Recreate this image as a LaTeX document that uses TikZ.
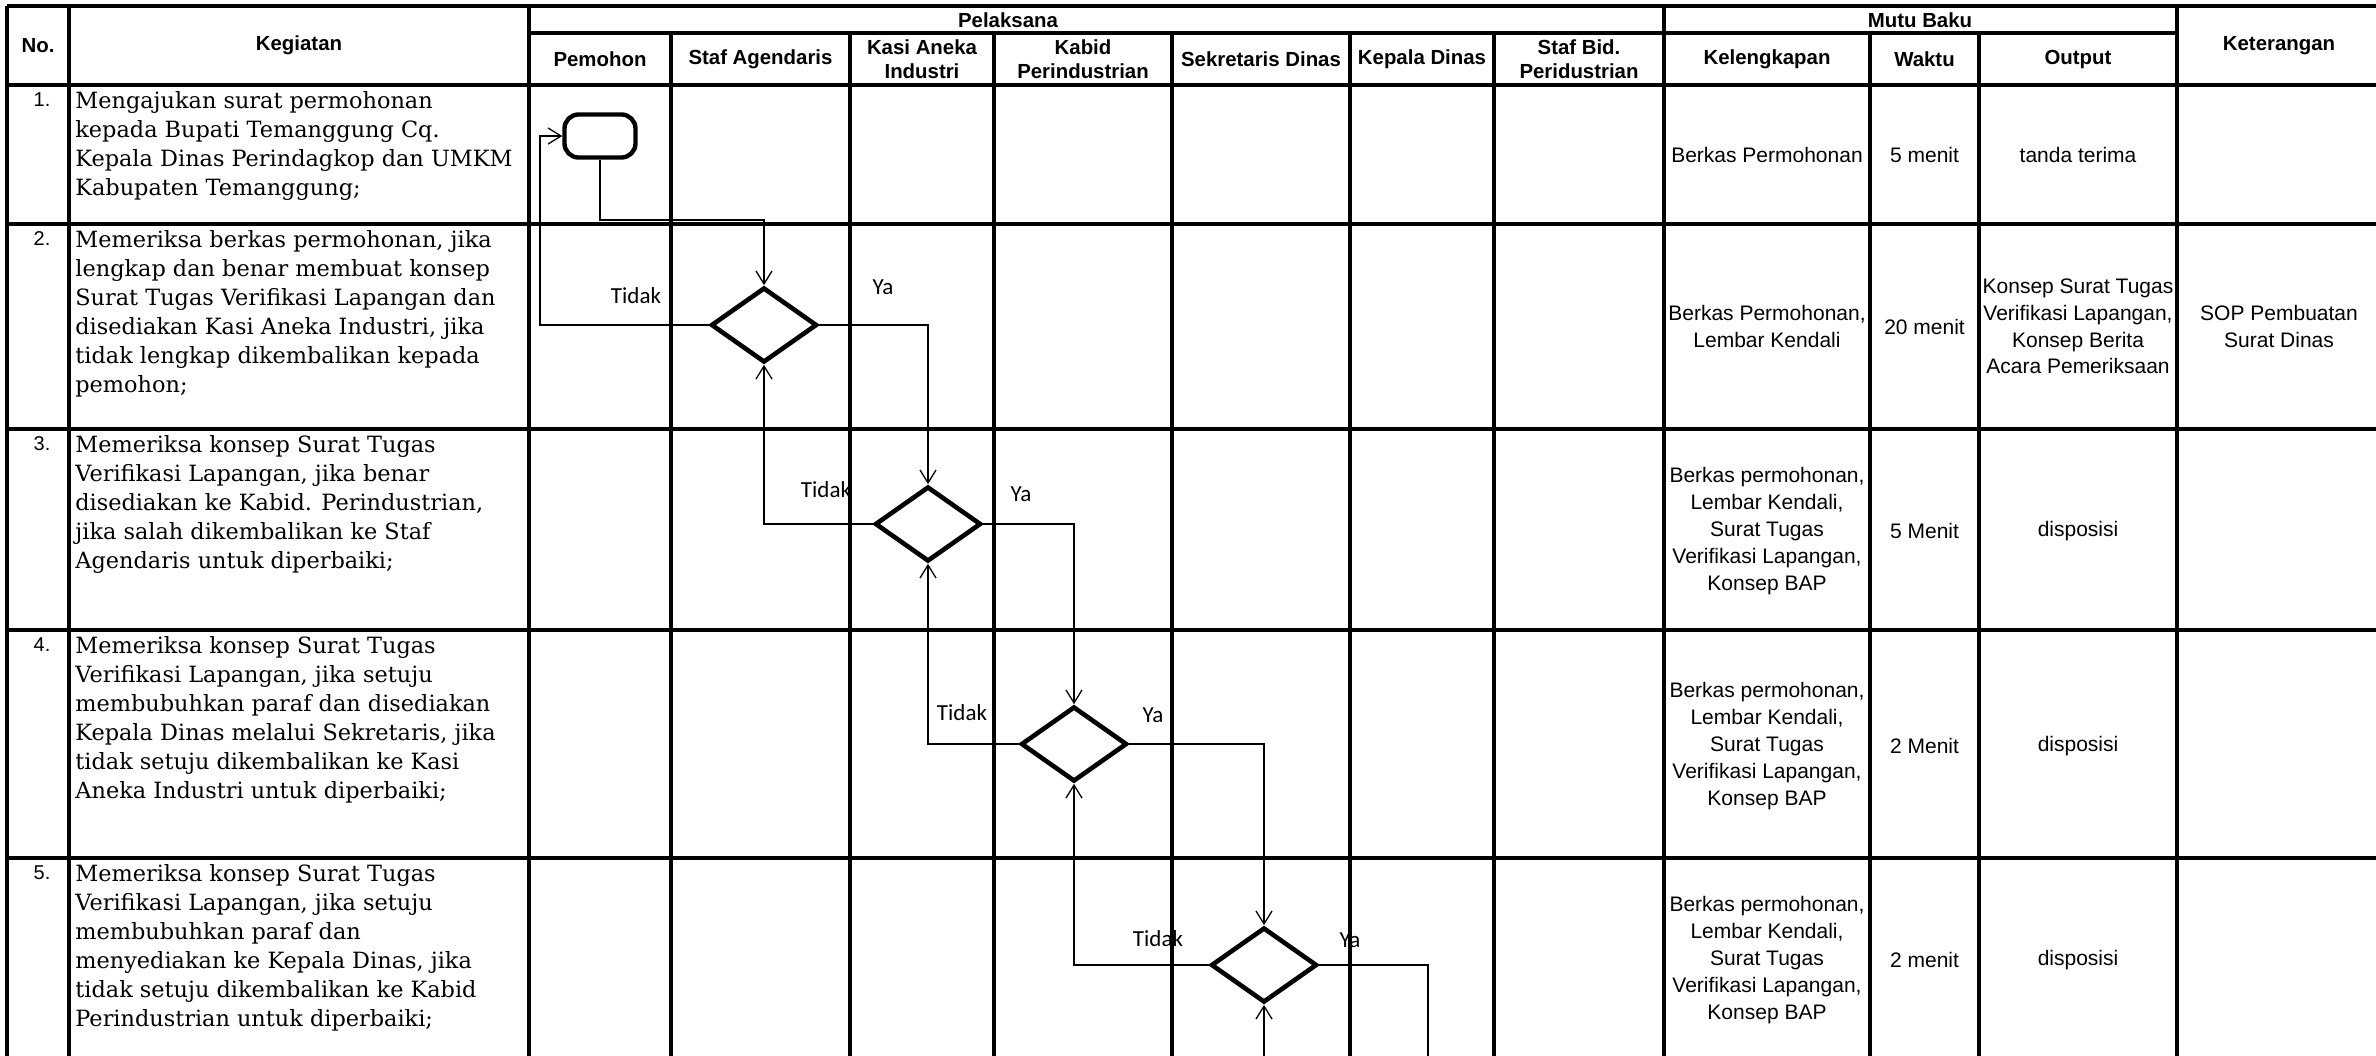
\documentclass[tikz,border=0pt]{standalone}
\usepackage{fontspec}
\usepackage{xcolor}
\usetikzlibrary{arrows.meta,shapes.geometric}
\setmainfont{Liberation Sans}
\newfontfamily\uraianFont{DejaVu Serif}
\newfontfamily\labelFont{Carlito}
\definecolor{gridBlack}{RGB}{0,0,0}
\newcommand{\headTxt}{\fontsize{10.2}{12}\selectfont\bfseries}
\newcommand{\tabTxt}{\fontsize{10.5}{13.4}\selectfont}
\newcommand{\uraianTxt}{\uraianFont\fontsize{11.2}{14.5}\selectfont}
\newcommand{\ynTxt}{\labelFont\fontsize{11.5}{13}\selectfont}
\newcommand{\berkasLengkap}{Berkas permohonan,\\Lembar Kendali,\\Surat Tugas\\Verifikasi Lapangan,\\Konsep BAP}

\begin{document}
\begin{tikzpicture}[x=0.5pt,y=-0.5pt,
  gridLine/.style={draw=gridBlack,line width=1.8pt},
  flowLine/.style={draw=gridBlack,line width=0.65pt,-{Straight Barb[length=6.5pt,width=8pt]}},
  flowPlain/.style={draw=gridBlack,line width=0.65pt},
  headCell/.style={align=center,inner sep=0pt,font=\headTxt},
  bodyCell/.style={align=center,inner sep=0pt,font=\tabTxt},
  uraian/.style={anchor=north west,align=left,inner sep=0pt,font=\uraianTxt},
  nomor/.style={anchor=north,inner sep=0pt,font=\fontsize{10}{12}\selectfont},
  terminal/.style={draw=gridBlack,rounded corners=7pt,line width=2.2pt,minimum width=35.5pt,minimum height=21.5pt,inner sep=0pt},
  decision/.style={draw=gridBlack,diamond,line width=2.3pt,minimum width=53pt,minimum height=37.5pt,inner sep=0pt},
  ynLabel/.style={inner sep=0pt,font=\ynTxt}]
\useasboundingbox (0,0) rectangle (2376,1055);
\clip (0,0) rectangle (2376,1055);
\fill[white] (0,0) rectangle (2376,1055);

% tabel
\draw[gridLine] (7,6) -- (2381,6);
\draw[gridLine] (529,33) -- (2177,33);
\foreach \y in {85,224,429,630,858}
  \draw[gridLine] (7,\y) -- (2381,\y);
\foreach \x in {7,69,529,1664,2177}
  \draw[gridLine] (\x,6) -- (\x,1070);
\foreach \x in {671,850,994,1172,1350,1494,1870,1979}
  \draw[gridLine] (\x,33) -- (\x,1070);

% kepala tabel
\node[headCell] (hNo) at (38,45.5) {No.};
\node[headCell] (hKeg) at (299,45.5) {Kegiatan};
\node[headCell] (hPel) at (1008,20) {Pelaksana};
\node[headCell] (hMutu) at (1920,20) {Mutu Baku};
\node[headCell] (hKet) at (2279,45.5) {Keterangan};
\node[headCell] (hPem) at (600,59) {Pemohon};
\node[headCell] (hStaf) at (760.5,59) {Staf Agendaris};
\node[headCell] (hKasi) at (922,59) {Kasi Aneka\\Industri};
\node[headCell] (hKabid) at (1083,59) {Kabid\\Perindustrian};
\node[headCell] (hSekr) at (1261,59) {Sekretaris Dinas};
\node[headCell] (hKadin) at (1422,59) {Kepala Dinas};
\node[headCell] (hStafBid) at (1579,59) {Staf Bid.\\Peridustrian};
\node[headCell] (hLengkap) at (1767,59) {Kelengkapan};
\node[headCell] (hWaktu) at (1924.5,59) {Waktu};
\node[headCell] (hOutput) at (2078,59) {Output};

% kegiatan
\node[nomor] (noA) at (42,92) {1.};
\node[nomor] (noB) at (42,231) {2.};
\node[nomor] (noC) at (42,436) {3.};
\node[nomor] (noD) at (42,637) {4.};
\node[nomor] (noE) at (42,865) {5.};
\node[uraian] (kegA) at (75,91) {Mengajukan surat permohonan\\kepada Bupati Temanggung Cq.\\Kepala Dinas Perindagkop dan UMKM\\Kabupaten Temanggung;};
\node[uraian] (kegB) at (75,230) {Memeriksa berkas permohonan, jika\\lengkap dan benar membuat konsep\\Surat Tugas Verifikasi Lapangan dan\\disediakan Kasi Aneka Industri, jika\\tidak lengkap dikembalikan kepada\\pemohon;};
\node[uraian] (kegC) at (75,435) {Memeriksa konsep Surat Tugas\\Verifikasi Lapangan, jika benar\\disediakan ke Kabid. Perindustrian,\\jika salah dikembalikan ke Staf\\Agendaris untuk diperbaiki;};
\node[uraian] (kegD) at (75,636) {Memeriksa konsep Surat Tugas\\Verifikasi Lapangan, jika setuju\\membubuhkan paraf dan disediakan\\Kepala Dinas melalui Sekretaris, jika\\tidak setuju dikembalikan ke Kasi\\Aneka Industri untuk diperbaiki;};
\node[uraian] (kegE) at (75,864) {Memeriksa konsep Surat Tugas\\Verifikasi Lapangan, jika setuju\\membubuhkan paraf dan\\menyediakan ke Kepala Dinas, jika\\tidak setuju dikembalikan ke Kabid\\Perindustrian untuk diperbaiki;};

% mutu baku
\node[bodyCell] (lengkapA) at (1767,155) {Berkas Permohonan};
\node[bodyCell] (waktuA) at (1924.5,155) {5 menit};
\node[bodyCell] (outA) at (2078,155) {tanda terima};
\node[bodyCell] (lengkapB) at (1767,326.5) {Berkas Permohonan,\\Lembar Kendali};
\node[bodyCell] (waktuB) at (1924.5,326.5) {20 menit};
\node[bodyCell] (outB) at (2078,326.5) {Konsep Surat Tugas\\Verifikasi Lapangan,\\Konsep Berita\\Acara Pemeriksaan};
\node[bodyCell] (ketB) at (2279,326.5) {SOP Pembuatan\\Surat Dinas};
\node[bodyCell] (lengkapC) at (1767,531) {\berkasLengkap};
\node[bodyCell] (waktuC) at (1924.5,531) {5 Menit};
\node[bodyCell] (outC) at (2078,531) {disposisi};
\node[bodyCell] (lengkapD) at (1767,746) {\berkasLengkap};
\node[bodyCell] (waktuD) at (1924.5,746) {2 Menit};
\node[bodyCell] (outD) at (2078,746) {disposisi};
\node[bodyCell] (lengkapE) at (1767,960) {\berkasLengkap};
\node[bodyCell] (waktuE) at (1924.5,960) {2 menit};
\node[bodyCell] (outE) at (2078,960) {disposisi};

% alur
\node[terminal] (mulai) at (600,136) {};
\node[decision] (decStaf) at (764,325) {};
\node[decision] (decKasi) at (928,524) {};
\node[decision] (decKabid) at (1074,744) {};
\node[decision] (decSekr) at (1264,965) {};
\coordinate (belokA) at (0,220);
\coordinate (kiriA) at (540,0);
\coordinate (keluarYa) at (1428,1075);
\coordinate (masukTidak) at (1264,1075);

\draw[flowLine] (mulai.south) |- (decStaf.north |- belokA) -- (decStaf.north);
\draw[flowLine] (decStaf.west) -- (decStaf.west -| kiriA) |- (mulai.west);
\draw[flowLine] (decStaf.east) -| (decKasi.north);
\draw[flowLine] (decKasi.west) -| (decStaf.south);
\draw[flowLine] (decKasi.east) -| (decKabid.north);
\draw[flowLine] (decKabid.west) -| (decKasi.south);
\draw[flowLine] (decKabid.east) -| (decSekr.north);
\draw[flowLine] (decSekr.west) -| (decKabid.south);
\draw[flowPlain] (decSekr.east) -| (keluarYa);
\draw[flowLine] (masukTidak) -- (decSekr.south);

\node[ynLabel] (tidakA) at (636,296) {Tidak};
\node[ynLabel] (yaA) at (883,287) {Ya};
\node[ynLabel] (tidakB) at (826,490) {Tidak};
\node[ynLabel] (yaB) at (1021,494) {Ya};
\node[ynLabel] (tidakC) at (962,713) {Tidak};
\node[ynLabel] (yaC) at (1153,715) {Ya};
\node[ynLabel] (tidakD) at (1158,939) {Tidak};
\node[ynLabel] (yaD) at (1350,940) {Ya};
\end{tikzpicture}
\end{document}
